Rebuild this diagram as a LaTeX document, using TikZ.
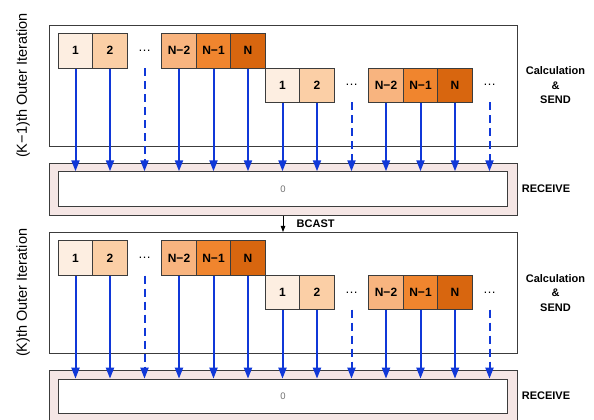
\documentclass[tikz,border=0pt]{standalone}
\usepackage{fontspec}
\setmainfont{Liberation Sans}
\usetikzlibrary{arrows.meta}

\definecolor{framegray}{HTML}{3C3C3C}
\definecolor{recvpink}{HTML}{F5E6E5}
\definecolor{sendblue}{HTML}{1038D8}
\definecolor{cellA}{HTML}{FDEEE1}
\definecolor{cellB}{HTML}{FBCFA6}
\definecolor{cellC}{HTML}{F8B47F}
\definecolor{cellD}{HTML}{F0852E}
\definecolor{cellE}{HTML}{D8660F}

\tikzset{
  frame/.style={draw=framegray, line width=0.9pt, fill=white, inner sep=0pt},
  recvouter/.style={draw=framegray, line width=0.9pt, fill=recvpink, inner sep=0pt},
  recvinner/.style={draw=framegray, line width=0.9pt, fill=white, inner sep=0pt,
    font=\fontsize{9.5}{11}\selectfont, text=black!55},
  cell/.style={draw=framegray, line width=0.8pt, minimum width=34.5pt,
    inner sep=0pt, font=\bfseries\fontsize{12}{14}\selectfont},
  gapdots/.style={inner sep=0pt, font=\fontsize{13}{14}\selectfont},
  send/.style={draw=sendblue, line width=2pt, -{Triangle[width=8pt,length=11pt]}},
  dashsend/.style={send, dash pattern=on 8pt off 5pt},
  bcast/.style={draw=black, line width=0.8pt, -{Triangle[width=4.5pt,length=6pt]}},
  sidelabel/.style={inner sep=0pt, font=\bfseries\fontsize{11}{14.5}\selectfont, align=center},
  iterlabel/.style={inner sep=0pt, rotate=90, font=\fontsize{14.5}{16}\selectfont}
}

\begin{document}
\begin{tikzpicture}[x=1pt, y=-1pt]
\useasboundingbox (0,0) rectangle (594,420);

\foreach \t/\dy/\lab in {a/0/{(K−1)th Outer Iteration}, b/207.4/{(K)th Outer Iteration}}{
  \begin{scope}[yshift=-\dy pt]
    % calculation frame
    \node[frame, minimum width=468pt, minimum height=121pt] (frame-\t) at (283,85.5) {};
    \node[iterlabel] (iter-\t) at (23,85.5) {\lab};
    \node[sidelabel] (calc-\t) at (555.5,85.5) {Calculation\\\&\\SEND};

    % receive buffer
    \node[recvouter, minimum width=468pt, minimum height=51.7pt] (recv-\t) at (283,189.2) {};
    \node[recvinner, minimum width=449.4pt, minimum height=34.3pt] (buf-\t) at (283,188.9) {0};
    \node[sidelabel] (rlab-\t) at (546,188.6) {RECEIVE};

    % first row of blocks
    \node[cell, fill=cellA, minimum height=35pt] (p1-\t) at (75.5,50.8) {1};
    \node[cell, fill=cellB, minimum height=35pt] (p2-\t) at (110,50.8) {2};
    \node[gapdots] (g1-\t) at (144.5,50.8) {…};
    \node[cell, fill=cellC, minimum height=35pt] (p3-\t) at (179,50.8) {N−2};
    \node[cell, fill=cellD, minimum height=35pt] (p4-\t) at (213.5,50.8) {N−1};
    \node[cell, fill=cellE, minimum height=35pt] (p5-\t) at (248,50.8) {N};

    % second row of blocks
    \node[cell, fill=cellA, minimum height=34pt] (q1-\t) at (282.5,85.3) {1};
    \node[cell, fill=cellB, minimum height=34pt] (q2-\t) at (317,85.3) {2};
    \node[gapdots] (g2-\t) at (351.5,85.3) {…};
    \node[cell, fill=cellC, minimum height=34pt] (q3-\t) at (386,85.3) {N−2};
    \node[cell, fill=cellD, minimum height=34pt] (q4-\t) at (420.5,85.3) {N−1};
    \node[cell, fill=cellE, minimum height=34pt] (q5-\t) at (455,85.3) {N};
    \node[gapdots] (g3-\t) at (489.5,85.3) {…};

    % free ends of the dashed sends
    \coordinate (d1-\t) at (144.5,68.3);
    \coordinate (d2-\t) at (351.5,102.3);
    \coordinate (d3-\t) at (489.5,102.3);

    % sends into the receive buffer
    \foreach \c in {p1,p2,p3,p4,p5,q1,q2,q3,q4,q5}{
      \draw[send] (\c-\t.south) -- (\c-\t.south |- buf-\t.north);
    }
    \foreach \c in {d1,d2,d3}{
      \draw[dashsend] (\c-\t) -- (\c-\t |- buf-\t.north);
    }
  \end{scope}
}

% broadcast between iterations
\draw[bcast] (recv-a.south) -- (frame-b.north);
\node[sidelabel, anchor=west] (bc) at (296.5,223.3) {BCAST};
\end{tikzpicture}
\end{document}
